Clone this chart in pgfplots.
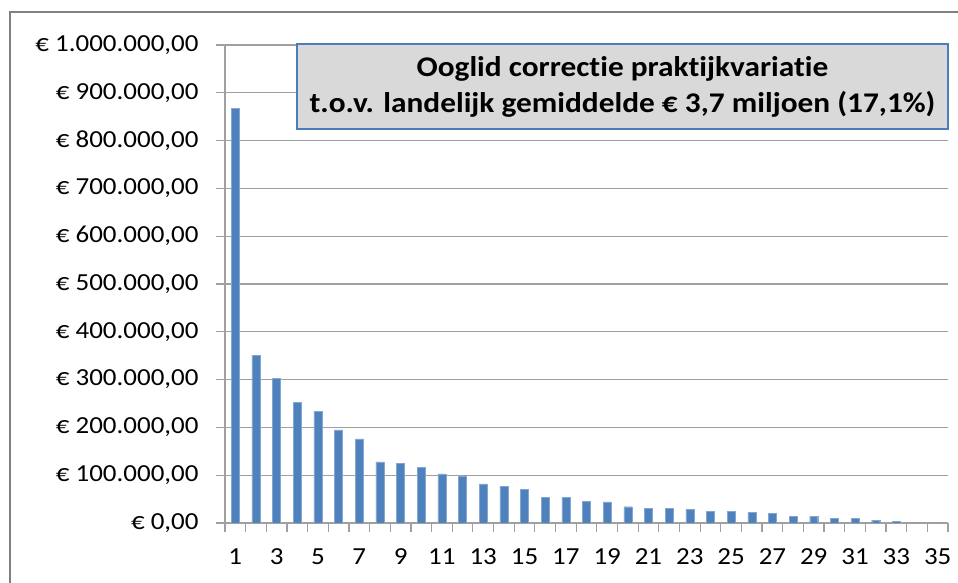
\documentclass[border=0pt]{standalone}
\usepackage{pgfplots}
\pgfplotsset{compat=1.18}
\usepackage{fontspec}
\setmainfont{Carlito}[FakeStretch=1.1, Ligatures={NoCommon}]
\definecolor{barblue}{HTML}{4F81BD}
\definecolor{gridgray}{HTML}{A0A0A0}
\definecolor{boxgray}{HTML}{D9D9D9}
\definecolor{boxblue}{HTML}{4A7EBB}
\pgfplotstableread{
x y
1 868000
2 351000
3 302000
4 252000
5 233000
6 195000
7 176000
8 128000
9 125000
10 117000
11 103000
12 97000
13 82000
14 77000
15 71000
16 54000
17 54000
18 46000
19 44000
20 34000
21 30000
22 30000
23 28000
24 25000
25 25000
26 22000
27 20000
28 14000
29 14000
30 9000
31 9000
32 6000
33 3000
34 0
35 0
}\datatable
\begin{document}
\begin{tikzpicture}[x=1pt,y=1pt]
\path[use as bounding box] (0,0) rectangle (958,583);
\draw[color=black!50, line width=2pt] (10,0) -- (10,571) -- (958,571);
\begin{axis}[
  at={(225pt,60pt)}, anchor=south west,
  scale only axis, width=723pt, height=478pt,
  xmin=0.5, xmax=35.5, ymin=0, ymax=1000000,
  ybar, bar width=8pt,
  axis x line=bottom, axis y line=left,
  axis line style={-, gridgray, line width=1.2pt},
  ymajorgrids, grid style={gridgray, line width=1.2pt},
  tick align=outside, major tick length=9pt,
  tick style={gridgray, line width=1.2pt},
  scaled y ticks=false,
  ytick={0,100000,...,1000000},
  yticklabels={{€ 0,00},{€ 100.000,00},{€ 200.000,00},{€ 300.000,00},{€ 400.000,00},{€ 500.000,00},{€ 600.000,00},{€ 700.000,00},{€ 800.000,00},{€ 900.000,00},{€ 1.000.000,00}},
  yticklabel style={xshift=-14pt},
  xtick={0.5,1.5,...,35.5}, xticklabels={},
  extra x ticks={1,3,...,35},
  extra x tick style={major tick length=0pt, grid=none, xticklabel style={yshift=-22pt}},
  /pgf/number format/assume math mode=true,
  tick label style={font=\fontsize{24.5}{28}\selectfont, text=black},
]
\addplot[fill=barblue, draw=barblue!70!white] table[x=x,y=y] {\datatable};
\end{axis}
\node[draw=boxblue, line width=1.8pt, fill=boxgray, minimum width=651pt, minimum height=85pt, align=center, font=\fontsize{28.5}{36}\selectfont\bfseries, inner sep=0pt] at (622.5,496.5) {Ooglid correctie praktijkvariatie\\t.o.v. landelijk gemiddelde € 3,7 miljoen (17,1\%)};
\end{tikzpicture}
\end{document}
